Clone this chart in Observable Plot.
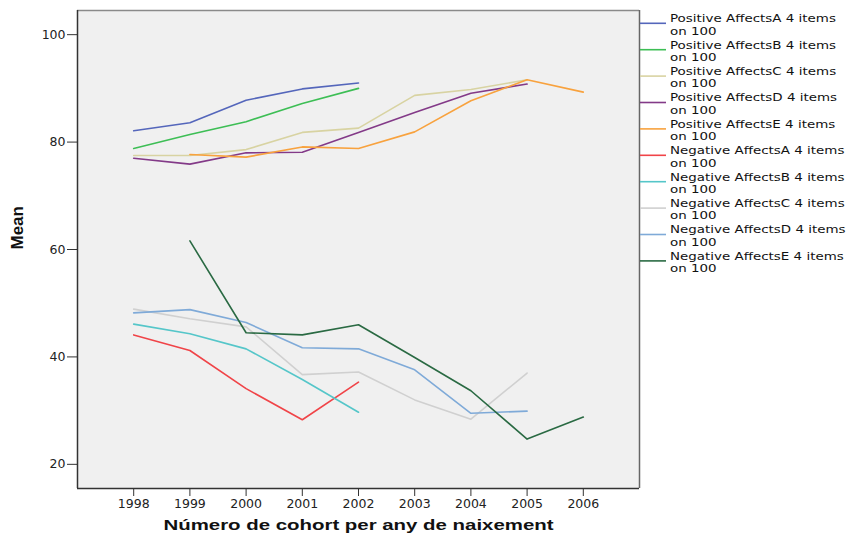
<!DOCTYPE html>
<html>
<head>
<meta charset="utf-8">
<script src="https://cdn.jsdelivr.net/npm/d3@7"></script>
<script src="https://cdn.jsdelivr.net/npm/@observablehq/plot@0.6"></script>
<style>
  html, body { margin: 0; padding: 0; background: #fff; }
  #wrap { position: relative; width: 847px; height: 539px; overflow: hidden; }
  #legend { position: absolute; left: 0; top: 0; }
</style>
</head>
<body>
<div id="wrap"></div>
<script>
const years = [1998, 1999, 2000, 2001, 2002, 2003, 2004, 2005, 2006];

const seriesNames = [
  "Positive AffectsA 4 items on 100",
  "Positive AffectsB 4 items on 100",
  "Positive AffectsC 4 items on 100",
  "Positive AffectsD 4 items on 100",
  "Positive AffectsE 4 items on 100",
  "Negative AffectsA 4 items on 100",
  "Negative AffectsB 4 items on 100",
  "Negative AffectsC 4 items on 100",
  "Negative AffectsD 4 items on 100",
  "Negative AffectsE 4 items on 100"
];

const seriesColors = [
  "#5466bb", "#3dbe55", "#d8d3a2", "#833a88", "#f8a23e",
  "#f04448", "#55c6c9", "#d0d0d0", "#7faad8", "#2a6a43"
];

const positiveA = [82.1, 83.6, 87.8, 89.9, 91.0, null, null, null, null];
const positiveB = [78.8, 81.4, 83.8, 87.2, 90.0, null, null, null, null];
const positiveC = [77.5, 77.5, 78.6, 81.8, 82.6, 88.7, 89.8, 91.6, null];
const positiveD = [77.0, 75.9, 78.0, 78.1, 81.8, 85.5, 89.1, 90.8, null];
const positiveE = [null, 77.7, 77.2, 79.1, 78.8, 81.9, 87.7, 91.6, 89.3];
const negativeA = [44.1, 41.2, 34.1, 28.3, 35.3, null, null, null, null];
const negativeB = [46.1, 44.3, 41.5, 35.8, 29.7, null, null, null, null];
const negativeC = [48.9, 47.1, 45.6, 36.7, 37.2, 32.0, 28.4, 37.0, null];
const negativeD = [48.2, 48.8, 46.4, 41.7, 41.5, 37.6, 29.5, 29.9, null];
const negativeE = [null, 61.6, 44.5, 44.1, 46.0, 39.9, 33.7, 24.7, 28.8];

const yTicks = [20, 40, 60, 80, 100];
const xTitle = "Número de cohort per any de naixement";
const yTitle = "Mean";

const allSeries = [positiveA, positiveB, positiveC, positiveD, positiveE,
                   negativeA, negativeB, negativeC, negativeD, negativeE];

const rows = [];
allSeries.forEach((vals, i) => {
  vals.forEach((v, j) => {
    if (v != null) rows.push({series: seriesNames[i], year: years[j], value: v});
  });
});

const tickFont = "DejaVu Sans, sans-serif";

const chart = Plot.plot({
  width: 847,
  height: 539,
  marginLeft: 77,
  marginRight: 208,
  marginTop: 10,
  marginBottom: 51,
  style: {background: "transparent", fontFamily: tickFont, fontSize: "12.5px", color: "#222"},
  x: {domain: [1997, 2007], axis: null},
  y: {domain: [15.5, 104.5], axis: null},
  color: {domain: seriesNames, range: seriesColors},
  marks: [
    Plot.frame({fill: "#f0f0f0", stroke: null}),
    Plot.axisY({ticks: yTicks, tickSize: 10, tickPadding: 2, label: null, stroke: "#333", fill: "#222", fontSize: 12.5}),
    Plot.axisX({ticks: years, tickFormat: d => String(d), tickSize: 8, tickPadding: 3, label: null, stroke: "#333", fill: "#222", fontSize: 12.5}),
    Plot.line(rows, {x: "year", y: "value", z: "series", stroke: "series", strokeWidth: 1.6, curve: "linear"}),
    Plot.ruleY([104.5], {stroke: "#8a8a8a", strokeWidth: 1.5}),
    Plot.ruleX([2007], {stroke: "#666", strokeWidth: 1.5}),
    Plot.ruleX([1997], {stroke: "#333", strokeWidth: 1.5}),
    Plot.ruleY([15.5], {stroke: "#333", strokeWidth: 1.5}),
    Plot.text([yTitle], {frameAnchor: "left", dx: -60, rotate: -90, fontWeight: "bold", fontSize: 17, fontFamily: "Liberation Sans, Arial, sans-serif", fill: "#111"}),
    Plot.text([xTitle], {frameAnchor: "bottom", dy: 41, fontWeight: "bold", fontSize: 15, fontFamily: "Liberation Sans, Arial, sans-serif", fill: "#111", textAnchor: "middle"})
  ]
});

const wrap = document.getElementById("wrap");
wrap.appendChild(chart);

// Stretch the x title horizontally like the reference
d3.select(chart).selectAll("text")
  .filter(function() { return this.textContent === xTitle; })
  .attr("textLength", 390)
  .attr("lengthAdjust", "spacingAndGlyphs");

// Legend (right side)
const leg = d3.select(wrap).append("svg")
  .attr("id", "legend")
  .attr("width", 847).attr("height", 539);
seriesNames.forEach((name, i) => {
  const y = 23.3 + i * 26.4;
  leg.append("line")
    .attr("x1", 640).attr("x2", 666).attr("y1", y).attr("y2", y)
    .attr("stroke", seriesColors[i]).attr("stroke-width", 1.6);
  const parts = name.split(" on ");
  const g = leg.append("g").attr("transform", `translate(670,0) scale(1.28,1)`);
  const common = sel => sel
    .attr("font-family", "DejaVu Sans, sans-serif")
    .attr("font-size", 10.5)
    .attr("fill", "#111");
  g.append("text").call(common).attr("x", 0).attr("y", y - 1).text(parts[0]);
  g.append("text").call(common).attr("x", 0).attr("y", y + 11.4).text("on " + parts[1]);
});
</script>
</body>
</html>
